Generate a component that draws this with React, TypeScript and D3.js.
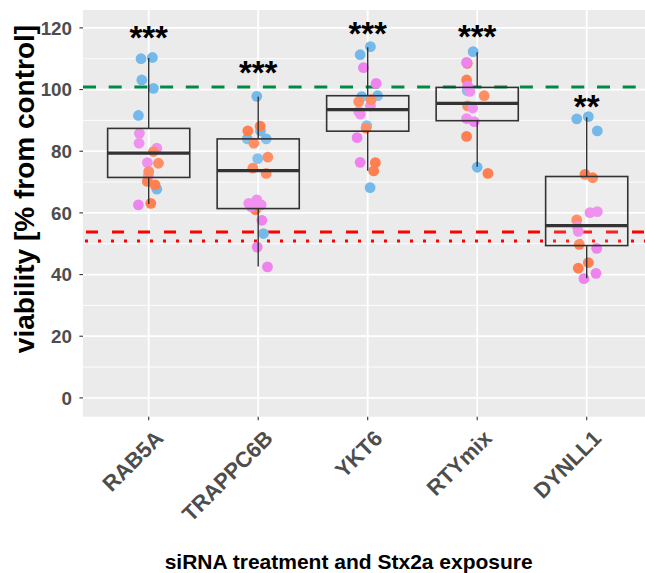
import React from "react";
import * as d3 from "d3";

const categories = ["RAB5A", "TRAPPC6B", "YKT6", "RTYmix", "DYNLL1"];
const yTicks = [0, 20, 40, 60, 80, 100, 120];
const yMinorTicks = [10, 30, 50, 70, 90, 110];

// box statistics
const whiskerLow = [62.9, 42.6, 73.7, 75.0, 38.8];
const q1 = [71.5, 61.4, 86.5, 89.9, 49.4];
const medians = [79.4, 73.7, 93.5, 95.5, 55.9];
const q3 = [87.4, 84.0, 98.0, 100.7, 71.8];
const whiskerHigh = [110.2, 97.7, 113.7, 112.1, 91.0];

const signifLabels = ["***", "***", "***", "***", "**"];
const signifY = [118.4, 107.2, 119.9, 118.8, 96.2];

const controlLevel = 100.8;
const stxDashedLevel = 53.8;
const stxDottedLevel = 50.9;

const replicateColors: Record<string, string> = {
  a: "#74B9EA",
  b: "#EE82EE",
  c: "#FF7F50",
};

// [value, horizontal jitter (fraction of category step), replicate]
const rab5aPoints: [number, number, string][] = [
  [110.0, -0.07, "a"], [110.4, 0.034, "a"], [103.1, -0.063, "a"], [100.4, 0.043, "a"], [91.6, -0.094, "a"], [67.7, 0.074, "a"],
  [85.8, -0.085, "b"], [82.6, -0.088, "b"], [81.0, 0.074, "b"], [76.3, -0.012, "b"], [72.0, -0.003, "b"], [62.6, -0.094, "b"],
  [79.9, 0.043, "c"], [76.1, 0.089, "c"], [73.4, 0.0, "c"], [70.2, -0.012, "c"], [69.1, 0.058, "c"], [63.1, 0.019, "c"],
];
const trappc6bPoints: [number, number, string][] = [
  [97.8, -0.013, "a"], [86.6, 0.021, "a"], [84.0, -0.1, "a"], [84.0, 0.073, "a"], [77.6, -0.004, "a"], [53.3, 0.048, "a"],
  [88.1, 0.018, "c"], [86.6, -0.095, "c"], [82.6, -0.04, "c"], [78.1, 0.088, "c"], [74.5, -0.049, "c"], [72.8, 0.073, "c"], [61.0, -0.025, "c"],
  [63.1, -0.086, "b"], [64.2, -0.013, "b"], [62.6, 0.027, "b"], [62.0, -0.064, "b"], [57.6, 0.033, "b"], [48.9, -0.009, "b"], [42.5, 0.085, "b"],
];
const ykt6Points: [number, number, string][] = [
  [113.9, 0.025, "a"], [111.3, -0.069, "a"], [97.7, -0.055, "a"], [98.0, 0.091, "a"], [88.3, -0.009, "a"], [68.2, 0.022, "a"],
  [107.1, -0.039, "b"], [102.0, 0.077, "b"], [94.7, 0.025, "b"], [92.9, -0.082, "b"], [92.0, -0.067, "b"], [84.4, -0.097, "b"], [76.4, -0.069, "b"],
  [96.1, -0.082, "c"], [96.7, 0.031, "c"], [87.5, -0.015, "c"], [76.3, 0.07, "c"], [73.6, 0.055, "c"],
];
const rtymixPoints: [number, number, string][] = [
  [112.3, -0.037, "a"], [99.6, -0.091, "a"], [74.8, 0.0, "a"],
  [108.5, -0.091, "c"], [103.1, -0.097, "c"], [98.0, 0.064, "c"], [94.7, -0.088, "c"], [84.8, -0.097, "c"], [72.8, 0.098, "c"],
  [108.8, -0.097, "b"], [101.2, -0.088, "b"], [99.4, -0.067, "b"], [94.0, -0.042, "b"], [90.6, -0.097, "b"], [89.6, -0.027, "b"],
];
const dynll1Points: [number, number, string][] = [
  [90.5, -0.091, "a"], [91.2, 0.015, "a"], [86.6, 0.097, "a"],
  [72.5, -0.016, "c"], [71.4, 0.055, "c"], [57.7, -0.091, "c"], [49.8, -0.068, "c"], [43.9, 0.015, "c"], [42.1, -0.077, "c"],
  [60.1, 0.03, "b"], [60.4, 0.097, "b"], [55.6, -0.086, "b"], [54.0, -0.077, "b"], [48.5, 0.091, "b"], [40.4, 0.085, "b"], [38.7, -0.025, "b"],
];
const pointsByCategory = [rab5aPoints, trappc6bPoints, ykt6Points, rtymixPoints, dynll1Points];

const FONT = "'Liberation Sans', Arial, Helvetica, sans-serif";

export default function App() {
  const width = 645;
  const height = 573;
  const panelLeft = 83;
  const panelRight = 652.4;
  const panelTop = 10;
  const panelBottom = 416.7;

  const x = d3.scalePoint<string>().domain(categories).range([panelLeft, panelRight]).padding(0.6);
  const step = x.step();
  const y = d3.scaleLinear().domain([-6.1, 125.8]).range([panelBottom, panelTop]);
  const boxHalf = step * 0.375;

  return (
    <svg
      width={width}
      height={height}
      style={{ position: "absolute", left: 0, top: 0, display: "block", background: "#fff" }}
      fontFamily={FONT}
    >
      <defs>
        <clipPath id="panelClip">
          <rect x={panelLeft} y={panelTop} width={panelRight - panelLeft} height={panelBottom - panelTop} />
        </clipPath>
      </defs>
      <rect x={panelLeft} y={panelTop} width={panelRight - panelLeft} height={panelBottom - panelTop} fill="#EBEBEB" />
      <g clipPath="url(#panelClip)">
        {yMinorTicks.map((t) => (
          <line key={"mn" + t} x1={panelLeft} x2={panelRight} y1={y(t)} y2={y(t)} stroke="#fff" strokeWidth={0.9} />
        ))}
        {yTicks.map((t) => (
          <line key={"mj" + t} x1={panelLeft} x2={panelRight} y1={y(t)} y2={y(t)} stroke="#fff" strokeWidth={1.8} />
        ))}
        {categories.map((c) => (
          <line key={"vx" + c} x1={x(c)} x2={x(c)} y1={panelTop} y2={panelBottom} stroke="#fff" strokeWidth={1.8} />
        ))}
        <line x1={panelLeft} x2={panelRight} y1={y(controlLevel)} y2={y(controlLevel)} stroke="#008B45" strokeWidth={3} strokeDasharray="13,12.7" />
        <line x1={panelLeft} x2={panelRight} y1={y(stxDashedLevel)} y2={y(stxDashedLevel)} stroke="#FF0000" strokeWidth={3} strokeDasharray="12,14" strokeDashoffset={-3} />
        <line x1={panelLeft} x2={panelRight} y1={y(stxDottedLevel)} y2={y(stxDottedLevel)} stroke="#FF0000" strokeWidth={3} strokeDasharray="3,10" strokeDashoffset={-2} />
        {pointsByCategory.map((pts, i) =>
          pts.map((p, j) => (
            <circle
              key={"p" + i + "-" + j}
              cx={(x(categories[i]) as number) + p[1] * step}
              cy={y(p[0])}
              r={5.4}
              fill={replicateColors[p[2]]}
            />
          ))
        )}
        {categories.map((c, i) => {
          const cx = x(c) as number;
          return (
            <g key={"box" + c} stroke="#333333">
              <line x1={cx} x2={cx} y1={y(whiskerHigh[i])} y2={y(q3[i])} strokeWidth={1.4} />
              <line x1={cx} x2={cx} y1={y(q1[i])} y2={y(whiskerLow[i])} strokeWidth={1.4} />
              <rect
                x={cx - boxHalf}
                y={y(q3[i])}
                width={boxHalf * 2}
                height={y(q1[i]) - y(q3[i])}
                fill="#ffffff"
                fillOpacity={0.12}
                strokeWidth={1.6}
              />
              <line x1={cx - boxHalf} x2={cx + boxHalf} y1={y(medians[i])} y2={y(medians[i])} strokeWidth={3.2} />
            </g>
          );
        })}
        {categories.map((c, i) => (
          <text
            key={"sig" + c}
            x={x(c)}
            y={y(signifY[i]) + 16.5}
            textAnchor="middle"
            fontSize={33}
            fontWeight="bold"
            fill="#000"
          >
            {signifLabels[i]}
          </text>
        ))}
      </g>
      {/* y axis */}
      {yTicks.map((t) => (
        <g key={"yt" + t}>
          <line x1={panelLeft - 3.6} x2={panelLeft} y1={y(t)} y2={y(t)} stroke="#333" strokeWidth={1.1} />
          <text x={panelLeft - 11} y={y(t)} dy="0.36em" textAnchor="end" fontSize={18.8} fontWeight="bold" fill="#4D4D4D">
            {t}
          </text>
        </g>
      ))}
      {/* x axis */}
      {categories.map((c) => {
        const cx = x(c) as number;
        return (
          <g key={"xt" + c}>
            <line x1={cx} x2={cx} y1={panelBottom} y2={panelBottom + 3.6} stroke="#333" strokeWidth={1.1} />
            <text
              transform={`translate(${cx + 16},${panelBottom + 23}) rotate(-45)`}
              textAnchor="end"
              fontSize={21.8}
              fontWeight="bold"
              fill="#4D4D4D"
            >
              {c}
            </text>
          </g>
        );
      })}
      <text x={348.7} y={569} textAnchor="middle" fontSize={21} fontWeight="bold" fill="#000">
        siRNA treatment and Stx2a exposure
      </text>
      <text
        transform={`translate(34,189) rotate(-90)`}
        textAnchor="middle"
        fontSize={28}
        fontWeight="bold"
        fill="#000"
      >
        viability [% from control]
      </text>
    </svg>
  );
}
